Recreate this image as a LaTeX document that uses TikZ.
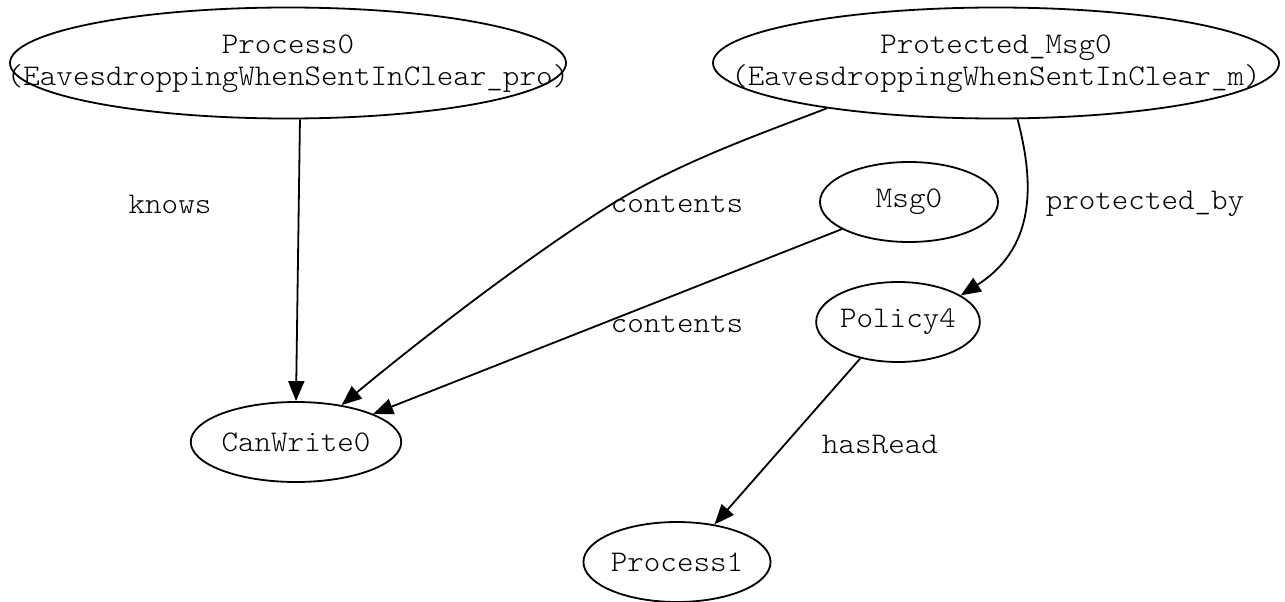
\documentclass[tikz,border=0pt]{standalone}
\usepackage{fontspec}
\setmonofont{lmmonolt10-regular}[Extension=.otf,FakeStretch=1.05]
\usetikzlibrary{shapes.geometric,arrows.meta}
\begin{document}
\begin{tikzpicture}[x=1pt,y=-1pt,
  nd/.style={draw, ellipse, line width=1.8pt, inner sep=0pt, font=\ttfamily\fontsize{30}{32}\selectfont},
  lbl/.style={inner sep=0pt, font=\ttfamily\fontsize{30}{32}\selectfont},
  conn/.style={line width=1.8pt, -{Triangle[length=20pt,width=16pt]}}]
\useasboundingbox (0,0) rectangle (1285,602);
\node[nd, minimum width=556pt, minimum height=111pt] (p0) at (288,63)
  {\makebox[0pt]{\begin{tabular}{@{}c@{}}Process0\\(EavesdroppingWhenSentInClear\_pro)\end{tabular}}};
\node[nd, minimum width=566pt, minimum height=111pt] (pm) at (996,63)
  {\makebox[0pt]{\begin{tabular}{@{}c@{}}Protected\_Msg0\\(EavesdroppingWhenSentInClear\_m)\end{tabular}}};
\node[nd, minimum width=178pt, minimum height=80pt] (m0) at (909,202) {Msg0};
\node[nd, minimum width=152pt, minimum height=80pt] (pol) at (898,322) {Policy4};
\node[nd, minimum width=166pt, minimum height=80pt] (cw) at (296,442) {CanWrite0};
\node[nd, minimum width=156pt, minimum height=80pt] (p1) at (677,562) {Process1};

\draw[conn] (p0.-78) -- (cw.north);
\draw[conn] (pm.-165) .. controls (760,134) and (680,162) .. (612,204) .. controls (530,255) and (420,340) .. (cw.39);
\draw[conn] (m0.-158) -- (cw.20);
\draw[conn] (pm.-69) .. controls (1032,175) and (1040,245) .. (pol.23);
\draw[conn] (pol.-136) -- (p1.45);

\node[lbl] (l1) at (170,204) {knows};
\node[lbl] (l2) at (677,204) {contents};
\node[lbl] (l3) at (677,324) {contents};
\node[lbl] (l4) at (1145,204) {protected\_by};
\node[lbl] (l5) at (880,444) {hasRead};
\end{tikzpicture}
\end{document}
